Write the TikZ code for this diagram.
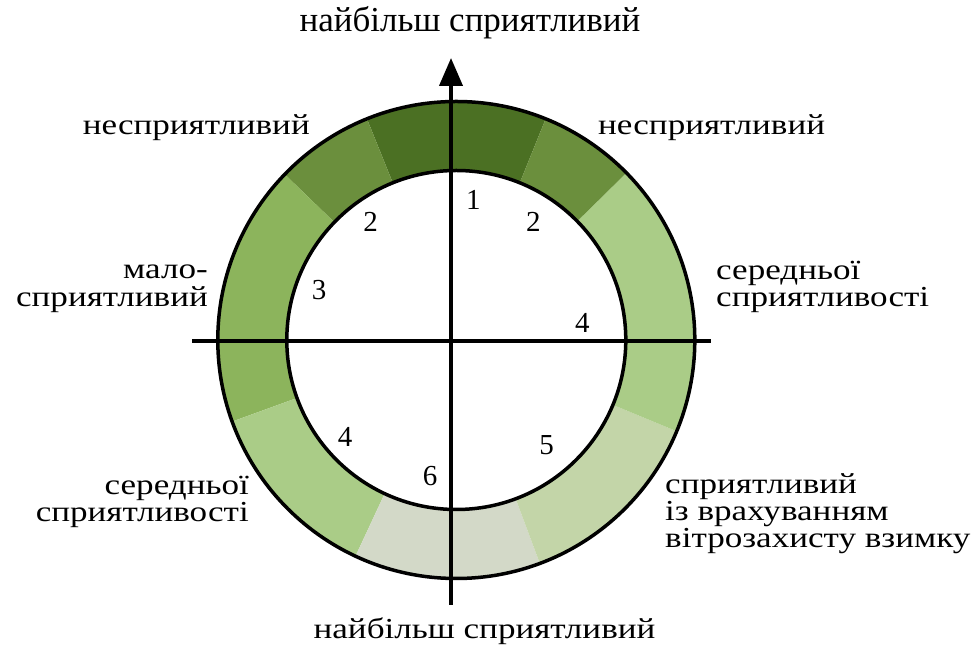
\documentclass[tikz,border=0pt]{standalone}
\usepackage{fontspec}
\setmainfont{Liberation Serif}
\newfontfamily\widefont[FakeStretch=1.21]{Liberation Serif}
\usetikzlibrary{arrows.meta,calc}
\definecolor{cdark}{HTML}{4B7023}
\definecolor{cmed}{HTML}{6B8F3D}
\definecolor{cleft}{HTML}{8CB45C}
\definecolor{clight}{HTML}{AACC87}
\definecolor{cpale}{HTML}{C3D5A8}
\definecolor{cgray}{HTML}{D3D9C8}
\tikzset{
  lbl/.style={inner sep=0pt, font=\widefont\fontsize{29}{27}\selectfont},
  ttl/.style={inner sep=0pt, font=\fontsize{35}{35}\selectfont},
  num/.style={inner sep=0pt, font=\fontsize{29}{29}\selectfont},
  ringline/.style={line width=3.5pt},
  axis/.style={line width=4pt},
}
\newcommand{\seg}[3]{\fill[#1] ($(C)+(#2:238.5)$) arc[start angle=#2,end angle=#3,radius=238.5] -- ($(C)+(#3:169.5)$) arc[start angle=#3,end angle=#2,radius=169.5] -- cycle;}
\begin{document}
\begin{tikzpicture}[x=1pt,y=1pt]
\useasboundingbox (0,0) rectangle (980,650);
\coordinate (C) at (456.3,310);
% ring segments
\seg{cdark}{68}{112}
\seg{cmed}{112}{136}
\seg{cleft}{136}{200}
\seg{clight}{200}{245}
\seg{cgray}{245}{290.5}
\seg{cpale}{290.5}{337.5}
\seg{clight}{-22.5}{44.5}
\seg{cmed}{44.5}{68}
% circles
\draw[ringline] (C) circle[radius=238.5];
\draw[ringline] (C) circle[radius=169.5];
% axes
\coordinate (hl) at (192,309);
\coordinate (hr) at (711,309);
\coordinate (vb) at (451,45);
\coordinate (vt) at (451,592);
\draw[axis] (hl) -- (hr);
\draw[axis,-{Triangle[length=28pt,width=23pt]}] (vb) -- (vt);
% numbers
\node[num] (n1) at (473.3,450) {1};
\node[num] (n2a) at (370.7,428.3) {2};
\node[num] (n2b) at (533.3,428.3) {2};
\node[num] (n3) at (319,360) {3};
\node[num] (n4a) at (582.3,326.7) {4};
\node[num] (n4b) at (345,213.3) {4};
\node[num] (n5) at (546.7,205) {5};
\node[num] (n6) at (430,174.3) {6};
% labels
\node[ttl,anchor=base] (ttop) at (470,618) {найбільш сприятливий};
\node[lbl,anchor=base] (tbot) at (484.5,11) {найбільш сприятливий};
\node[lbl,anchor=base east] (tnl) at (310,515) {несприятливий};
\node[lbl,anchor=base west] (tnr) at (598,515) {несприятливий};
\node[lbl,anchor=base east] (tm1) at (208,371) {мало-};
\node[lbl,anchor=base east] (tm2) at (208,343) {сприятливий};
\node[lbl,anchor=base west] (tsr1) at (716,370) {середньої};
\node[lbl,anchor=base west] (tsr2) at (716,343) {сприятливості};
\node[lbl,anchor=base east] (tsl1) at (249,155) {середньої};
\node[lbl,anchor=base east] (tsl2) at (249,128) {сприятливості};
\node[lbl,anchor=base west] (tw1) at (665,156) {сприятливий};
\node[lbl,anchor=base west] (tw2) at (665,129) {із врахуванням};
\node[lbl,anchor=base west] (tw3) at (665,102) {вітрозахисту взимку};
\end{tikzpicture}
\end{document}
